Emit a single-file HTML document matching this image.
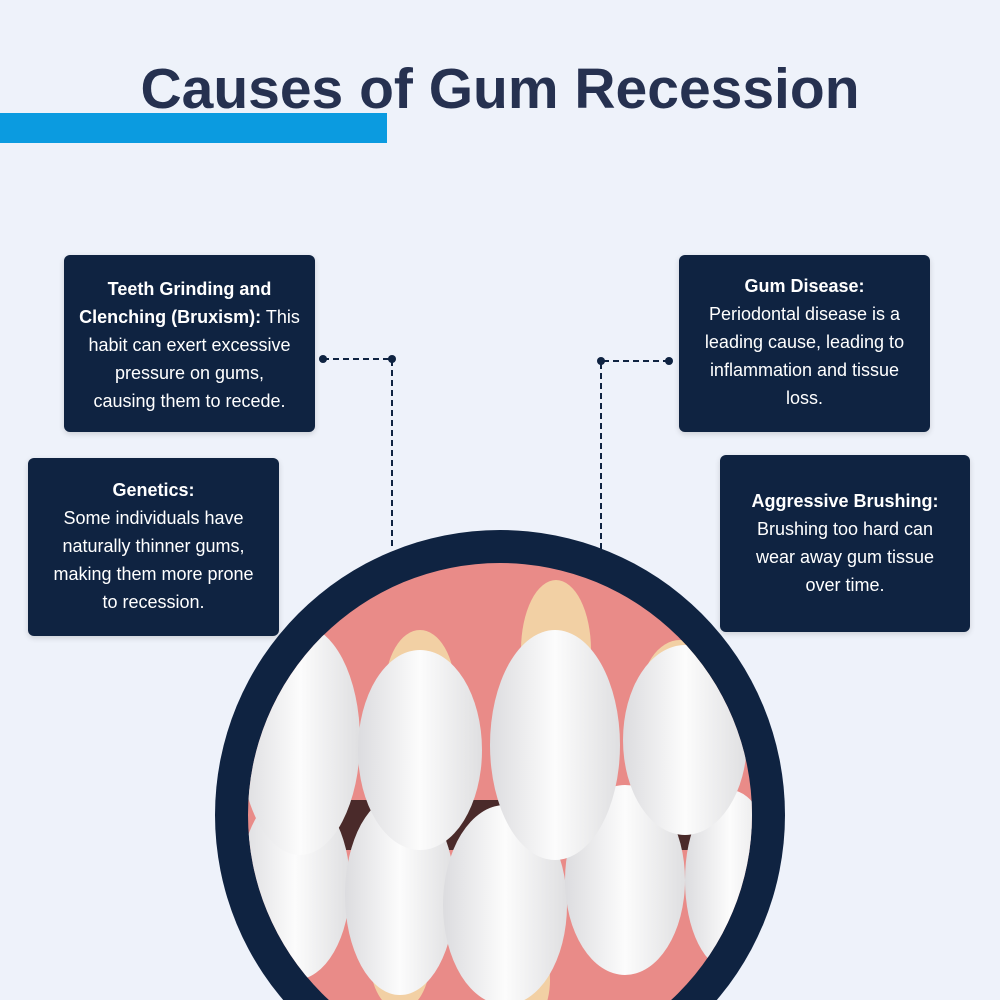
<!DOCTYPE html>
<html style="overflow:hidden"><head><meta charset="utf-8"><style>
html,body{margin:0;width:1000px;height:1000px;overflow:hidden}
body{background:#eef2fa;font-family:"Liberation Sans",sans-serif;position:relative}
h1{position:absolute;top:56px;left:0;width:1000px;text-align:center;margin:0;font-size:57px;font-weight:bold;color:#263150}
.bar{position:absolute;left:0;top:113px;width:387px;height:30px;background:#0b9be0}
.box{position:absolute;background:#0f2341;color:#fff;border-radius:6px;text-align:center;font-size:18px;line-height:28px;box-sizing:border-box;padding-top:20px;box-shadow:0 2px 6px rgba(0,0,0,.15)}
</style></head><body>
<h1>Causes of Gum Recession</h1>
<div class="bar"></div>
<div class="box" style="left:64px;top:255px;width:251px;height:177px;padding-top:20px"><b>Teeth Grinding and<br>Clenching (Bruxism):</b> This<br>habit can exert excessive<br>pressure on gums,<br>causing them to recede.</div>
<div class="box" style="left:28px;top:458px;width:251px;height:178px;padding-top:18px"><b>Genetics:</b><br>Some individuals have<br>naturally thinner gums,<br>making them more prone<br>to recession.</div>
<div class="box" style="left:679px;top:255px;width:251px;height:177px;padding-top:17px"><b>Gum Disease:</b><br>Periodontal disease is a<br>leading cause, leading to<br>inflammation and tissue<br>loss.</div>
<div class="box" style="left:720px;top:455px;width:250px;height:177px;padding-top:32px"><b>Aggressive Brushing:</b><br>Brushing too hard can<br>wear away gum tissue<br>over time.</div>
<svg width="1000" height="1000" style="position:absolute;left:0;top:0;overflow:hidden">
<defs><clipPath id="c"><circle cx="500" cy="815" r="252"/></clipPath>
<linearGradient id="t" x1="0" y1="0" x2="1" y2="0"><stop offset="0" stop-color="#dcdcdf"/><stop offset=".5" stop-color="#fcfcfc"/><stop offset="1" stop-color="#dfdfe1"/></linearGradient></defs>
<g stroke="#0f2341" stroke-width="2" stroke-dasharray="6,4" fill="none">
<path d="M323 359H392V550"/><path d="M669 361H601V550"/></g>
<g fill="#0f2341"><circle cx="323" cy="359" r="4"/><circle cx="392" cy="359" r="4"/><circle cx="669" cy="361" r="4"/><circle cx="601" cy="361" r="4"/></g>
<circle cx="500" cy="815" r="285" fill="#0f2341"/>
<g clip-path="url(#c)">
<rect x="240" y="560" width="520" height="520" fill="#e98b88"/>
<rect x="260" y="800" width="480" height="50" fill="#4a2a2a"/>
<g fill="#f2d0a4"><ellipse cx="420" cy="690" rx="35" ry="60"/><ellipse cx="556" cy="650" rx="35" ry="70"/><ellipse cx="680" cy="700" rx="40" ry="60"/><ellipse cx="400" cy="960" rx="30" ry="50"/><ellipse cx="520" cy="980" rx="30" ry="50"/></g>
<g fill="url(#t)">
<ellipse cx="295" cy="885" rx="55" ry="95"/>
<ellipse cx="400" cy="895" rx="55" ry="100"/>
<ellipse cx="505" cy="905" rx="62" ry="100"/>
<ellipse cx="625" cy="880" rx="60" ry="95"/>
<ellipse cx="730" cy="880" rx="45" ry="90"/>
<ellipse cx="300" cy="740" rx="60" ry="115"/>
<ellipse cx="420" cy="750" rx="62" ry="100"/>
<ellipse cx="555" cy="745" rx="65" ry="115"/>
<ellipse cx="685" cy="740" rx="62" ry="95"/>
</g></g>
</svg>
</body></html>
